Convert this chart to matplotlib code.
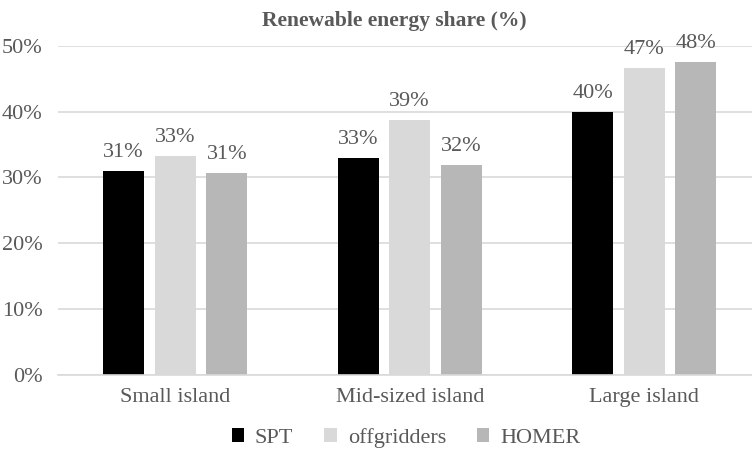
import numpy as np
import matplotlib
matplotlib.use("Agg")
import matplotlib.pyplot as plt

plt.rcParams["font.family"] = ["Liberation Serif", "DejaVu Serif"]

categories = ["Small island", "Mid-sized island", "Large island"]
series = ["SPT", "offgridders", "HOMER"]
spt = [31.0, 33.0, 40.0]
offgridders = [33.2, 38.7, 46.6]
homer = [30.7, 31.9, 47.6]
colors = ["#000000", "#d9d9d9", "#b7b7b7"]
yticks = [0, 10, 20, 30, 40, 50]

txt = "#595959"
grid = "#d9d9d9"

fig = plt.figure(figsize=(7.52, 4.61), dpi=100)
# plot area runs slightly past the right edge, as in the source
ax = fig.add_axes([0.0771, 0.1876, 0.9355, 0.7126])

x = np.arange(len(categories))
width = 0.175
step = 0.22
for i, (name, vals) in enumerate(zip(series, [spt, offgridders, homer])):
    pos = x + (i - 1) * step
    ax.bar(pos, vals, width, color=colors[i], label=name, zorder=3)
    for p, v in zip(pos, vals):
        ax.text(p, v + 1.4, f"{v:.0f}%", ha="center", va="bottom",
                fontsize=16, color=txt)

ax.set_xlim(-0.5, 2.5)
ax.set_ylim(0, 50)
ax.set_yticks(yticks)
ax.set_yticklabels([f"{t}%" for t in yticks])
ax.set_xticks(x)
ax.set_xticklabels(categories)
ax.tick_params(length=0, labelsize=16, colors=txt)
ax.tick_params(axis="x", pad=10)
ax.tick_params(axis="y", pad=11)
ax.grid(axis="y", color=grid, lw=1.2, zorder=0)
for s in ["top", "right", "left"]:
    ax.spines[s].set_visible(False)
ax.spines["bottom"].set_color(grid)
ax.spines["bottom"].set_linewidth(1.2)
ax.spines["bottom"].set_zorder(4)

fig.text(0.525, 0.955, "Renewable energy share (%)", fontsize=15.5,
         fontweight="bold", color=txt, ha="center", va="center")

leg = fig.legend(loc="center", ncol=3, frameon=False, fontsize=16,
                 bbox_to_anchor=(0.54, 0.05), handlelength=0.55,
                 handleheight=0.55, columnspacing=1.4, handletextpad=0.5)
for t in leg.get_texts():
    t.set_color(txt)

fig.savefig("out.png", dpi=100)
